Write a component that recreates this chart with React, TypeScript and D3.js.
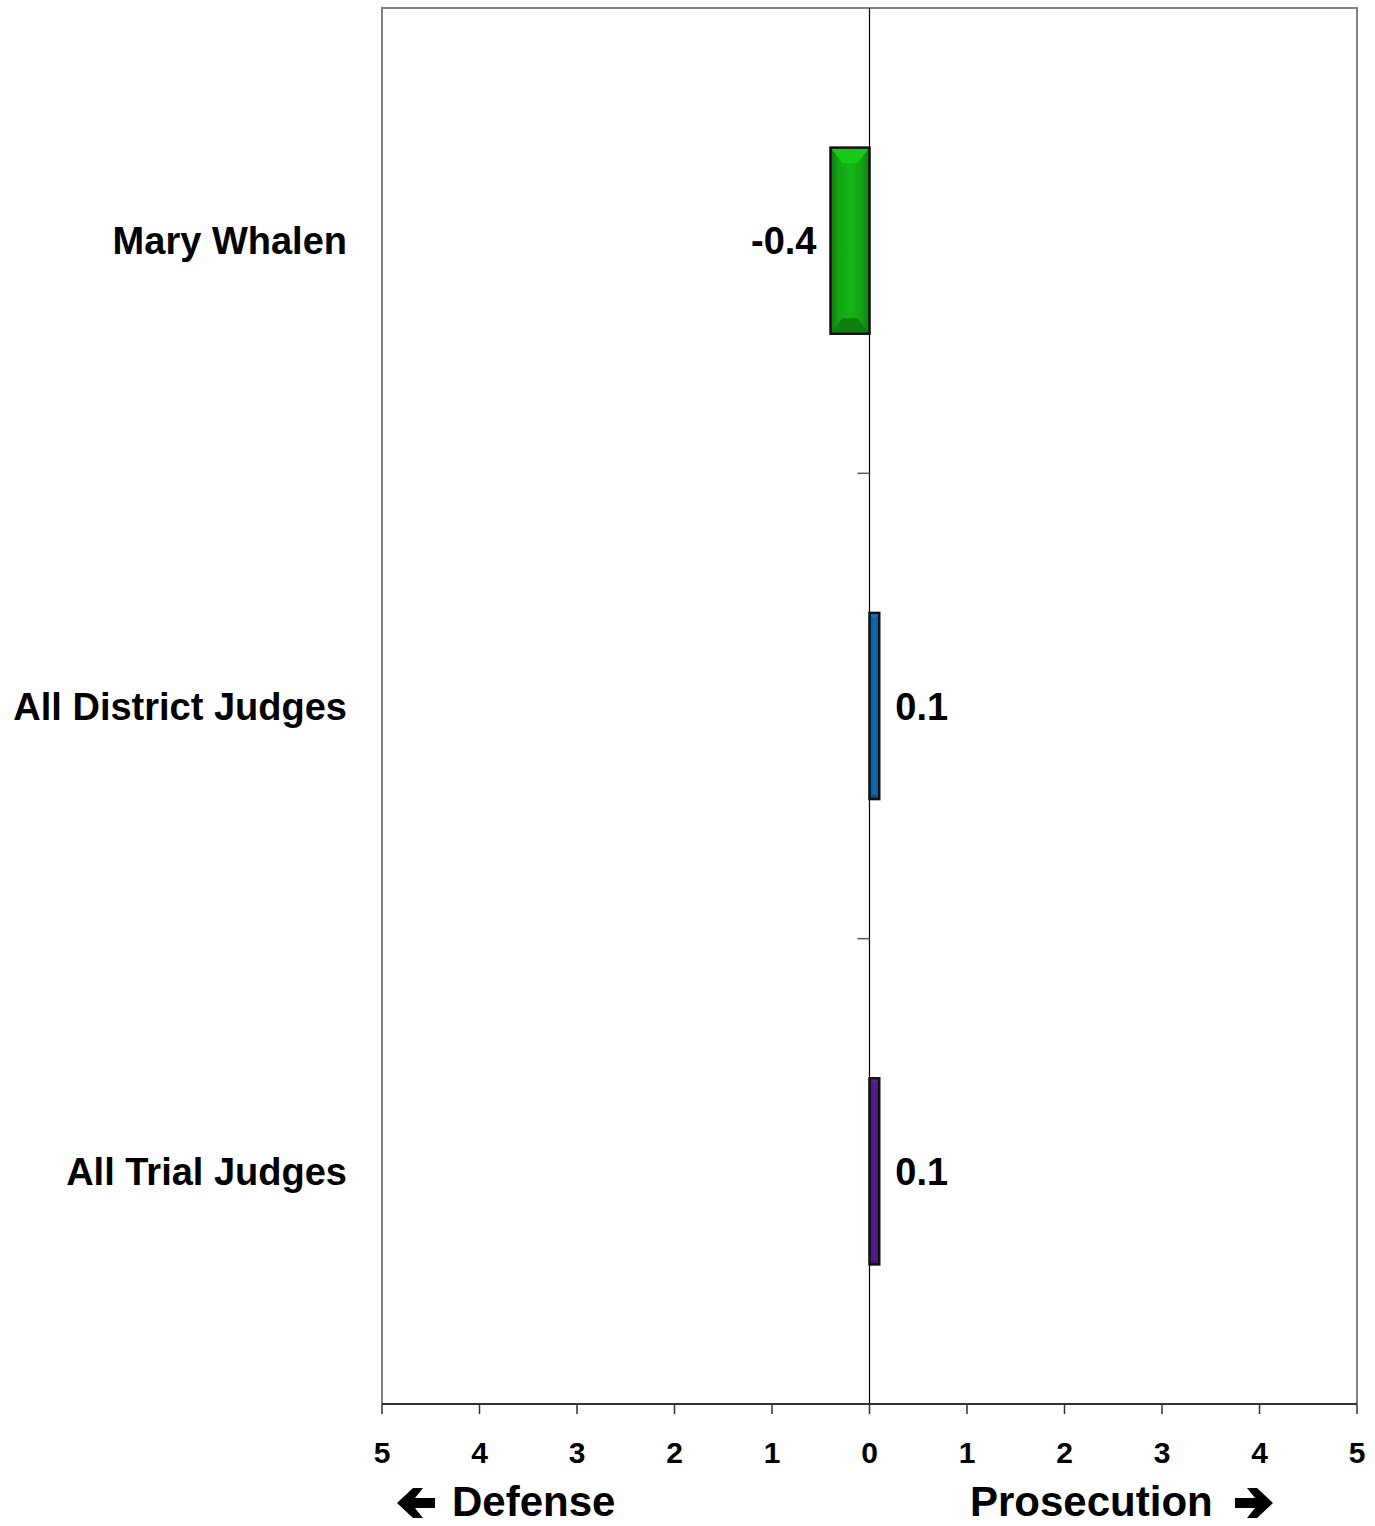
import React from 'react';
import * as d3 from 'd3';

const categories = ['Mary Whalen', 'All District Judges', 'All Trial Judges'];
const values = [-0.4, 0.1, 0.1];
const barColors = ['#13a313', '#0c5ea6', '#4a1c7c'];
const tickValues = [-5, -4, -3, -2, -1, 0, 1, 2, 3, 4, 5];

const W = 1375;
const H = 1526;
const left = 382;
const right = 1357;
const top = 8;
const bottom = 1404;
const FONT = 'Arial, "Liberation Sans", Helvetica, sans-serif';

// heavy arrow pointing right, origin at left-middle
const arrowPath = (x: number, y: number, dir: number) => {
  const len = 38;
  const h = 15; // half height of head
  const s = 5; // half thickness of shaft
  const hx = 18; // head length
  const pts = [
    [0, -s], [len - hx, -s], [len - hx - 8, -h], [len - hx + 2, -h],
    [len, 0], [len - hx + 2, h], [len - hx - 8, h], [len - hx, s], [0, s],
  ].map(([px, py]) => [dir > 0 ? x + px : x + len - px, y + py]);
  return 'M' + pts.map(p => p.join(',')).join('L') + 'Z';
};

export default function App() {
  const x = d3.scaleLinear().domain([-5, 5]).range([left, right]);
  const y = d3.scaleBand<string>().domain(categories).range([top, bottom])
    .paddingInner(0.6).paddingOuter(0.3);

  return (
    <svg width={W} height={H} style={{ display: 'block', position: 'absolute', left: 0, top: 0 }}
      fontFamily={FONT}>
      <defs>
        {barColors.map((c, i) => {
          const col = d3.color(c)!;
          return (
            <linearGradient key={i} id={`g${i}`} x1="0" x2="1" y1="0" y2="0">
              <stop offset="0" stopColor={col.darker(0.8).toString()} />
              <stop offset="0.2" stopColor={c} />
              <stop offset="0.5" stopColor={col.brighter(0.3).toString()} />
              <stop offset="0.8" stopColor={c} />
              <stop offset="1" stopColor={col.darker(0.8).toString()} />
            </linearGradient>
          );
        })}
      </defs>
      <rect width={W} height={H} fill="#fff" />

      {/* plot frame */}
      <path d={`M${left},${bottom}V${top}H${right}V${bottom}`} fill="none" stroke="#808080" strokeWidth={2} />

      {/* zero line with category separators */}
      <line x1={x(0)} x2={x(0)} y1={top} y2={bottom} stroke="#000" strokeWidth={1.2} />
      {categories.slice(1).map((c, i) => {
        const yy = (y(c)! - y.step() * y.paddingInner() / 2);
        return <line key={i} x1={x(0) - 12} x2={x(0)} y1={yy} y2={yy} stroke="#555" strokeWidth={1.5} />;
      })}

      {/* bars */}
      {categories.map((c, i) => {
        const v = values[i];
        const x0 = Math.min(x(0), x(v));
        const bw = Math.abs(x(v) - x(0));
        const y0 = y(c)!;
        const bh = y.bandwidth();
        const b = Math.min(12, bw / 3);
        const col = d3.color(barColors[i])!;
        return (
          <g key={c}>
            <rect x={x0} y={y0} width={bw} height={bh} fill={`url(#g${i})`} />
            <path d={`M${x0},${y0}H${x0 + bw}L${x0 + bw - b},${y0 + b * 1.3}H${x0 + b}Z`}
              fill={col.brighter(0.6).toString()} />
            <path d={`M${x0},${y0 + bh}H${x0 + bw}L${x0 + bw - b},${y0 + bh - b * 1.3}H${x0 + b}Z`}
              fill={col.darker(0.7).toString()} />
            <rect x={x0} y={y0} width={bw} height={bh} fill="none" stroke="#111" strokeWidth={2.5} />
            <text x={v < 0 ? x0 - 14 : x0 + bw + 16} y={y0 + bh / 2} dy="0.36em"
              textAnchor={v < 0 ? 'end' : 'start'} fontSize={38} fontWeight="bold">
              {v.toFixed(1)}
            </text>
          </g>
        );
      })}

      {/* category labels */}
      {categories.map(c => (
        <text key={c} x={347} y={y(c)! + y.bandwidth() / 2} dy="0.36em" textAnchor="end"
          fontSize={38} fontWeight="bold">{c}</text>
      ))}

      {/* bottom axis */}
      <line x1={left} x2={right} y1={bottom} y2={bottom} stroke="#333" strokeWidth={2} />
      {tickValues.map(t => (
        <g key={t} transform={`translate(${x(t)},0)`}>
          <line y1={bottom} y2={bottom + 10} stroke="#333" strokeWidth={1.5} />
          <text y={1463} textAnchor="middle" fontSize={30} fontWeight="bold">{Math.abs(t)}</text>
        </g>
      ))}

      {/* direction titles */}
      <path d={arrowPath(397, 1503, -1)} fill="#000" />
      <text x={452} y={1516} fontSize={42} fontWeight="bold">Defense</text>
      <text x={970} y={1516} fontSize={42} fontWeight="bold">Prosecution</text>
      <path d={arrowPath(1235, 1503, 1)} fill="#000" />
    </svg>
  );
}
